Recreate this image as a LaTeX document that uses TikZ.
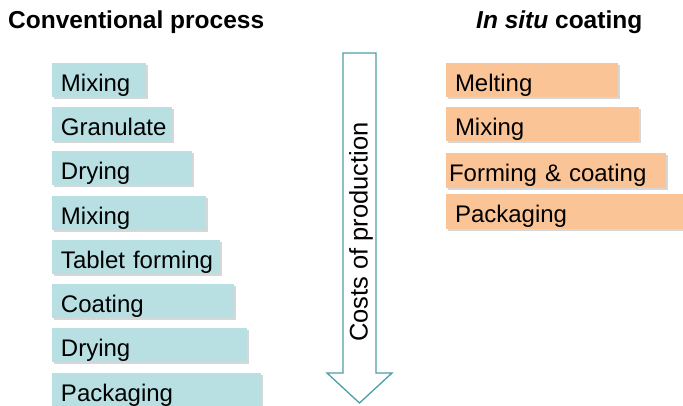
\documentclass[tikz,border=0pt]{standalone}
\usepackage{fontspec}
\setmainfont{Liberation Sans}
\usetikzlibrary{shadows}
\definecolor{tealfill}{HTML}{B8E0E3}
\definecolor{orangefill}{HTML}{FAC496}
\definecolor{arrowline}{HTML}{4A9FA5}
\begin{document}
\begin{tikzpicture}[x=1pt,y=-1pt,
  stepbase/.style={anchor=north west, inner xsep=0pt, inner ysep=0pt, outer sep=0pt,
     font=\fontsize{24}{26}\selectfont, text height=24pt, text depth=2pt,
     drop shadow={shadow xshift=2pt, shadow yshift=-2pt, opacity=0.45, fill=gray!70}},
  tealbox/.style={stepbase, fill=tealfill},
  orangebox/.style={stepbase, fill=orangefill},
  title/.style={font=\fontsize{24.5}{27}\selectfont\bfseries, anchor=west}]
\useasboundingbox (0,0) rectangle (683,405);
\clip (0,0) rectangle (683,405);
% titles
\node[title, inner sep=0pt] (t1) at (8,22) {Conventional process};
\node[title, inner sep=0pt] (t2) at (476,22) {\textit{In situ} coating};
% conventional boxes
\foreach \n/\y/\r/\txt in {c1/63/146/Mixing, c2/107/172/Granulate, c3/151/192/Drying, c4/196/206/Mixing, c5/240/220/Tablet forming, c6/284/234/Coating, c7/328/247/Drying, c8/373/261/Packaging}{
  \node[tealbox, minimum width={\r-52}, minimum height=34, text width={\r-52}] (\n) at (52,\y) {\hspace*{9pt}\txt};
}
% in situ boxes
\node[orangebox, minimum width=172, minimum height=34, text width=172] (o1) at (446,63) {\hspace*{9pt}Melting};
\node[orangebox, minimum width=193, minimum height=34, text width=193] (o2) at (446,107) {\hspace*{9pt}Mixing};
\node[orangebox, minimum width=220, minimum height=35, text width=220] (o3) at (446,153) {\hspace*{3pt}Forming \& coating};
\node[orangebox, minimum width=240, minimum height=35, text width=240] (o4) at (446,194) {\hspace*{9pt}Packaging};
% arrow
\draw[arrowline, line width=1.3pt, fill=white, line join=miter]
  (343,53) -- (376,53) -- (376,373) -- (392,373) -- (359.5,403) -- (327,373) -- (343,373) -- cycle;
\node[rotate=90, font=\fontsize{25.5}{27}\selectfont, inner sep=0pt] (arr) at (361,232) {Costs of production};
\end{tikzpicture}
\end{document}
